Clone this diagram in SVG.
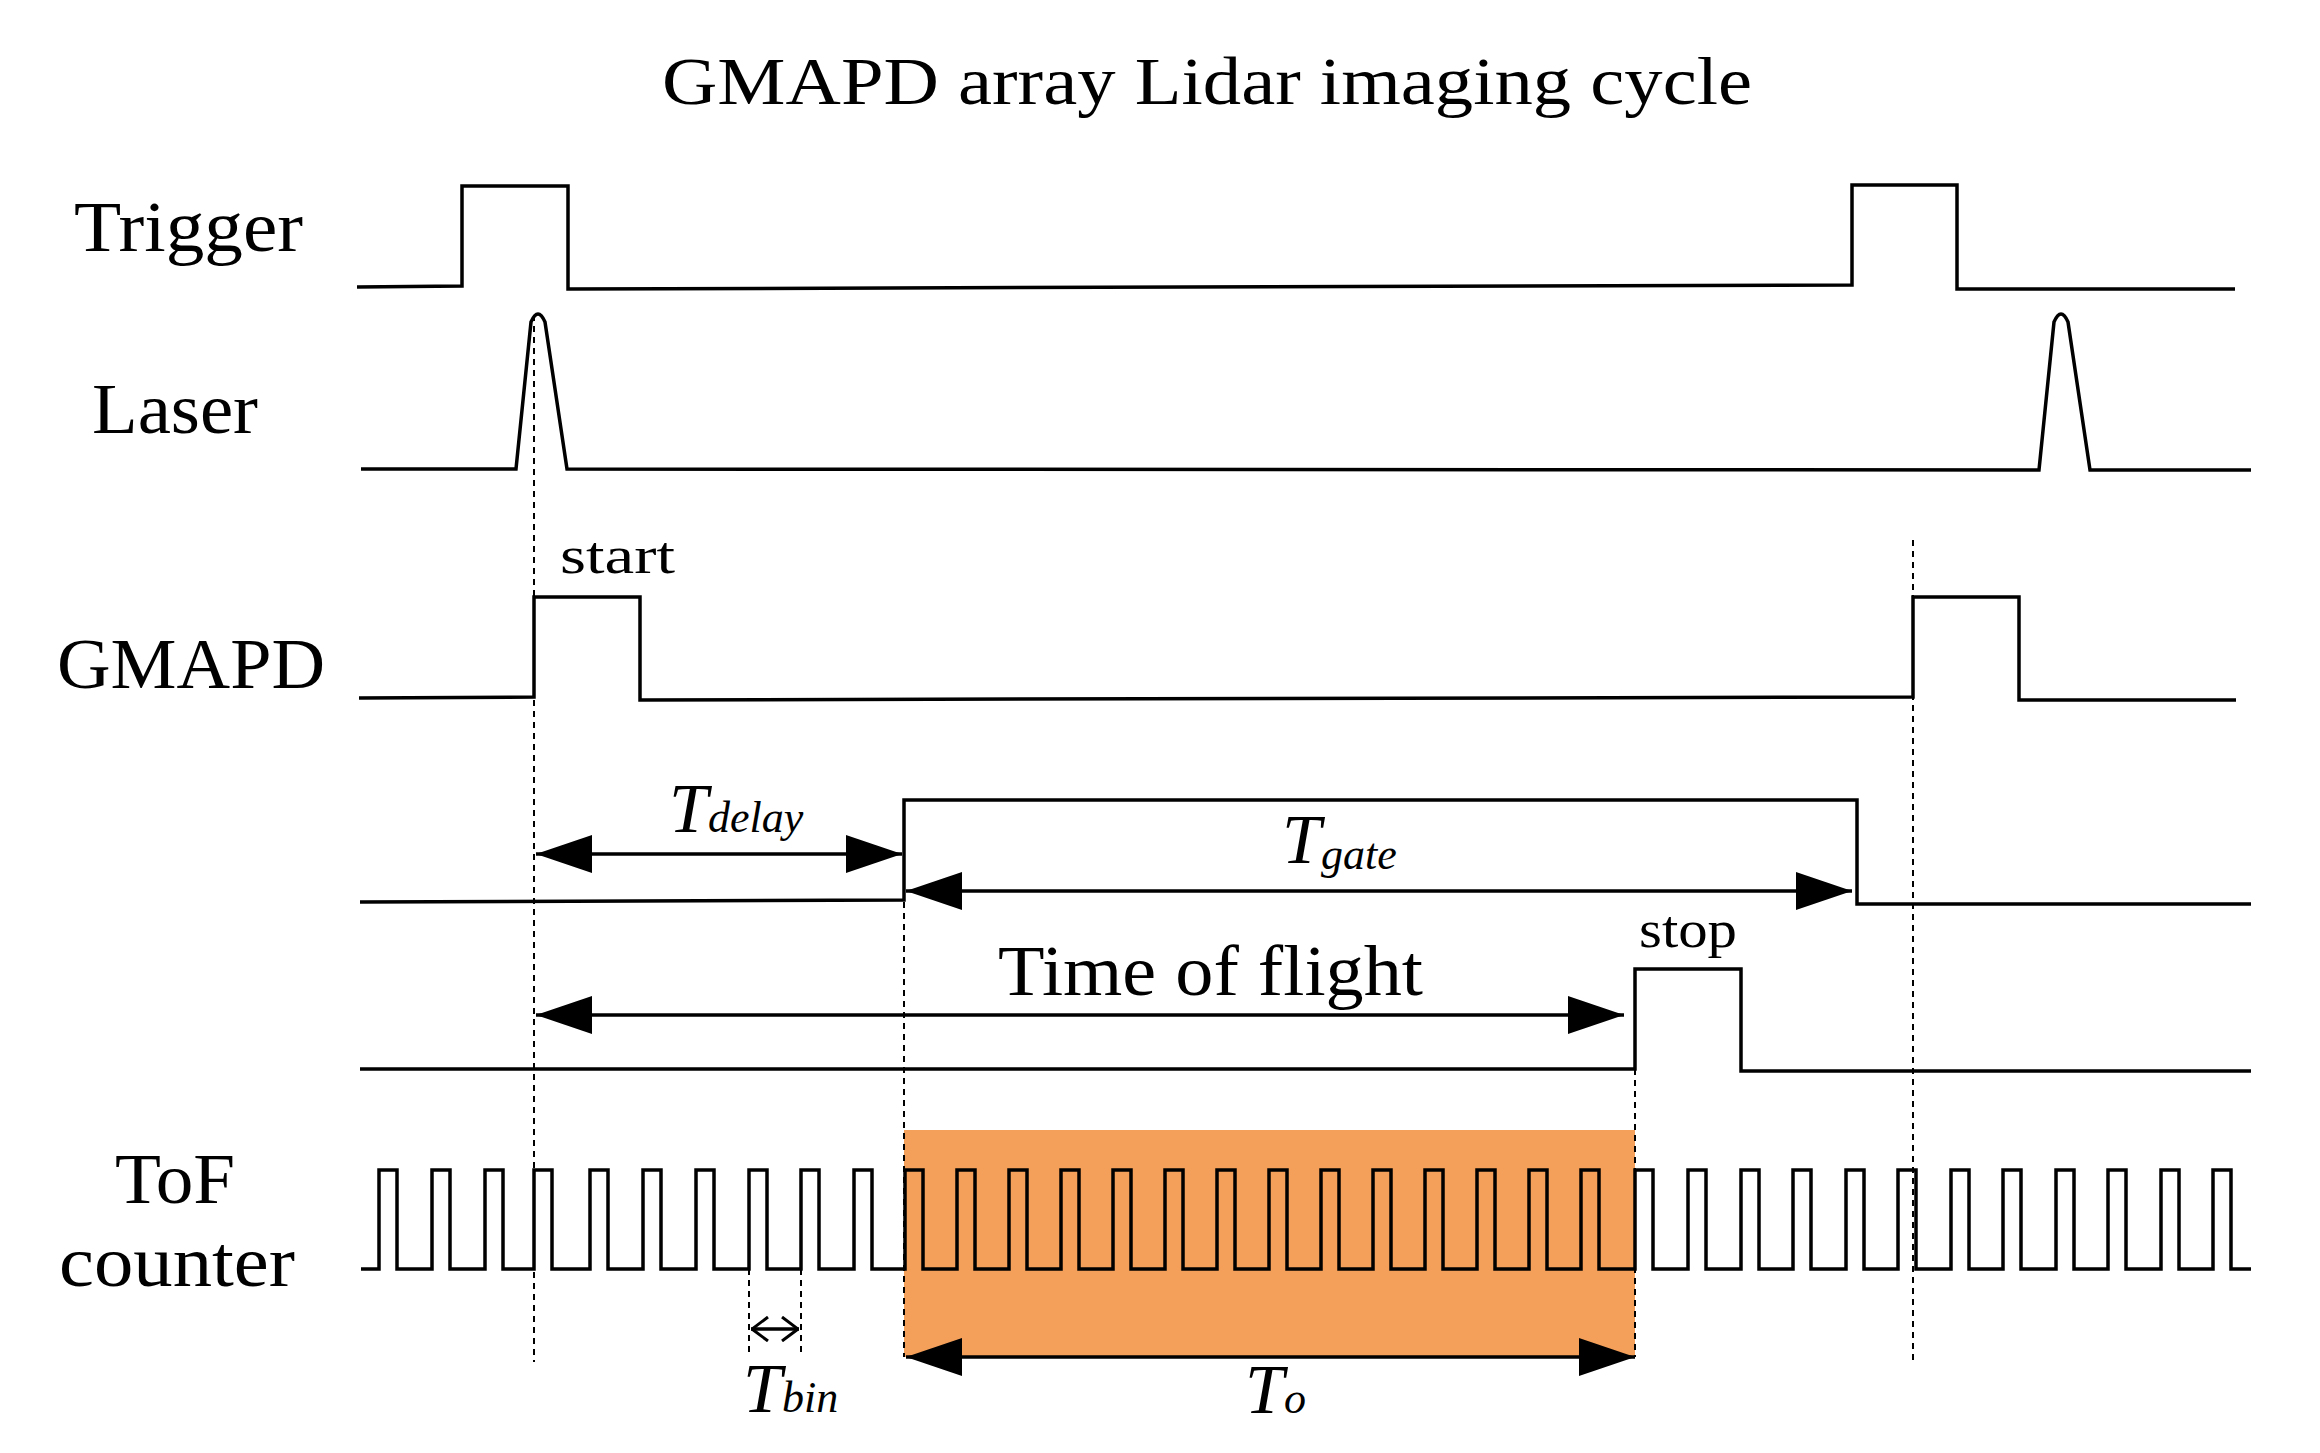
<svg xmlns="http://www.w3.org/2000/svg" width="2320" height="1453" viewBox="0 0 2320 1453">
<style>
.s{fill:none;stroke:#000;stroke-width:3.5;stroke-linejoin:miter}
.d{fill:none;stroke:#000;stroke-width:2;stroke-dasharray:6 5}
.a{fill:none;stroke:#000;stroke-width:3.5}
text{font-family:"Liberation Serif","DejaVu Serif",serif;fill:#000}
.lb{font-size:72px}
.it{font-style:italic}
</style>
<defs>
<marker id="ah" viewBox="0 0 56 38" refX="56" refY="19" markerWidth="56" markerHeight="38" markerUnits="userSpaceOnUse" orient="auto-start-reverse"><path d="M0,0 L56,19 L0,38 Z" fill="#000"/></marker>
<marker id="oh" viewBox="0 0 18 26" refX="18" refY="13" markerWidth="18" markerHeight="26" markerUnits="userSpaceOnUse" orient="auto-start-reverse"><path d="M1,1 L17,13 L1,25" fill="none" stroke="#000" stroke-width="3"/></marker>
</defs>
<rect width="2320" height="1453" fill="#fff"/>
<rect id="orange" x="904" y="1130" width="731" height="227" fill="#F4A05A"/>
<text x="662" y="104" font-size="68" textLength="1090" lengthAdjust="spacingAndGlyphs">GMAPD array Lidar imaging cycle</text>
<g id="trigger">
<text class="lb" x="74" y="251" textLength="229" lengthAdjust="spacingAndGlyphs">Trigger</text>
<path class="s" d="M357,287 L462,286 L462,186 L568,186 L568,289 L1852,285 L1852,185 L1957,185 L1957,289 L2235,289"/>
</g>
<g id="laser">
<text class="lb" x="92" y="433" textLength="166" lengthAdjust="spacingAndGlyphs">Laser</text>
<path class="s" d="M361,469 L516,469 L531,322 Q538,306 545,322 L567,469 L2039,470 L2054,322 Q2061,306 2068,322 L2090,470 L2251,470"/>
</g>
<g id="gmapd">
<text class="lb" x="57" y="688" textLength="268" lengthAdjust="spacingAndGlyphs">GMAPD</text>
<text x="560" y="573" font-size="52" textLength="115" lengthAdjust="spacingAndGlyphs">start</text>
<path class="s" d="M359,698 L534,697 L534,597 L640,597 L640,700 L1913,697 L1913,597 L2019,597 L2019,700 L2236,700"/>
</g>
<g id="gate">
<path class="s" d="M360,902 L904,900 L904,800 L1857,800 L1857,904 L2251,904"/>
<text class="it" x="669" y="832" font-size="70">T<tspan font-size="44">delay</tspan></text>
<text class="it" x="1282" y="863" font-size="70">T<tspan font-size="44" dy="6">gate</tspan></text>
</g>
<g id="stop">
<path class="s" d="M360,1069 L1635,1069 L1635,969 L1741,969 L1741,1071 L2251,1071"/>
<text x="1639" y="947" font-size="52" textLength="98" lengthAdjust="spacingAndGlyphs">stop</text>
<text x="998" y="995" font-size="72" textLength="425" lengthAdjust="spacingAndGlyphs">Time of flight</text>
</g>
<g id="tof">
<text class="lb" x="115" y="1203" textLength="120" lengthAdjust="spacingAndGlyphs">ToF</text>
<text class="lb" x="59" y="1286" textLength="236" lengthAdjust="spacingAndGlyphs">counter</text>
<path class="s" d="M361,1269 L379,1269 L379,1170 L397,1170 L397,1269 L432,1269 L432,1170 L450,1170 L450,1269 L485,1269 L485,1170 L503,1170 L503,1269 L534,1269 L534,1170 L552,1170 L552,1269 L590,1269 L590,1170 L608,1170 L608,1269 L643,1269 L643,1170 L661,1170 L661,1269 L696,1269 L696,1170 L714,1170 L714,1269 L749,1269 L749,1170 L767,1170 L767,1269 L801,1269 L801,1170 L819,1170 L819,1269 L854,1269 L854,1170 L872,1170 L872,1269 L905,1269 L905,1170 L923,1170 L923,1269 L957,1269 L957,1170 L975,1170 L975,1269 L1009,1269 L1009,1170 L1027,1170 L1027,1269 L1061,1269 L1061,1170 L1079,1170 L1079,1269 L1113,1269 L1113,1170 L1131,1170 L1131,1269 L1165,1269 L1165,1170 L1183,1170 L1183,1269 L1217,1269 L1217,1170 L1235,1170 L1235,1269 L1269,1269 L1269,1170 L1287,1170 L1287,1269 L1321,1269 L1321,1170 L1339,1170 L1339,1269 L1373,1269 L1373,1170 L1391,1170 L1391,1269 L1425,1269 L1425,1170 L1443,1170 L1443,1269 L1477,1269 L1477,1170 L1495,1170 L1495,1269 L1529,1269 L1529,1170 L1547,1170 L1547,1269 L1581,1269 L1581,1170 L1599,1170 L1599,1269 L1635,1269 L1635,1170 L1653,1170 L1653,1269 L1688,1269 L1688,1170 L1706,1170 L1706,1269 L1741,1269 L1741,1170 L1759,1170 L1759,1269 L1793,1269 L1793,1170 L1811,1170 L1811,1269 L1846,1269 L1846,1170 L1864,1170 L1864,1269 L1898,1269 L1898,1170 L1916,1170 L1916,1269 L1951,1269 L1951,1170 L1969,1170 L1969,1269 L2003,1269 L2003,1170 L2021,1170 L2021,1269 L2056,1269 L2056,1170 L2074,1170 L2074,1269 L2108,1269 L2108,1170 L2126,1170 L2126,1269 L2161,1269 L2161,1170 L2179,1170 L2179,1269 L2213,1269 L2213,1170 L2231,1170 L2231,1269 L2251,1269"/>
<text class="it" x="743" y="1412" font-size="70">T<tspan font-size="44">bin</tspan></text>
<text class="it" x="1245" y="1413" font-size="70">T<tspan font-size="44">o</tspan></text>
</g>
<g id="connectors">
<line class="d" x1="534" y1="315" x2="534" y2="1362"/>
<line class="d" x1="1913" y1="540" x2="1913" y2="1362"/>
<line class="d" x1="904" y1="902" x2="904" y2="1357"/>
<line class="d" x1="1635" y1="1069" x2="1635" y2="1357"/>
<line class="d" x1="749" y1="1269" x2="749" y2="1355"/>
<line class="d" x1="801" y1="1269" x2="801" y2="1355"/>
<line class="a" x1="536" y1="854" x2="902" y2="854" marker-start="url(#ah)" marker-end="url(#ah)"/>
<line class="a" x1="906" y1="891" x2="1852" y2="891" marker-start="url(#ah)" marker-end="url(#ah)"/>
<line class="a" x1="536" y1="1015" x2="1624" y2="1015" marker-start="url(#ah)" marker-end="url(#ah)"/>
<line class="a" x1="906" y1="1357" x2="1635" y2="1357" marker-start="url(#ah)" marker-end="url(#ah)"/>
<line class="a" x1="751" y1="1329" x2="799" y2="1329" marker-start="url(#oh)" marker-end="url(#oh)"/>
</g>
</svg>
